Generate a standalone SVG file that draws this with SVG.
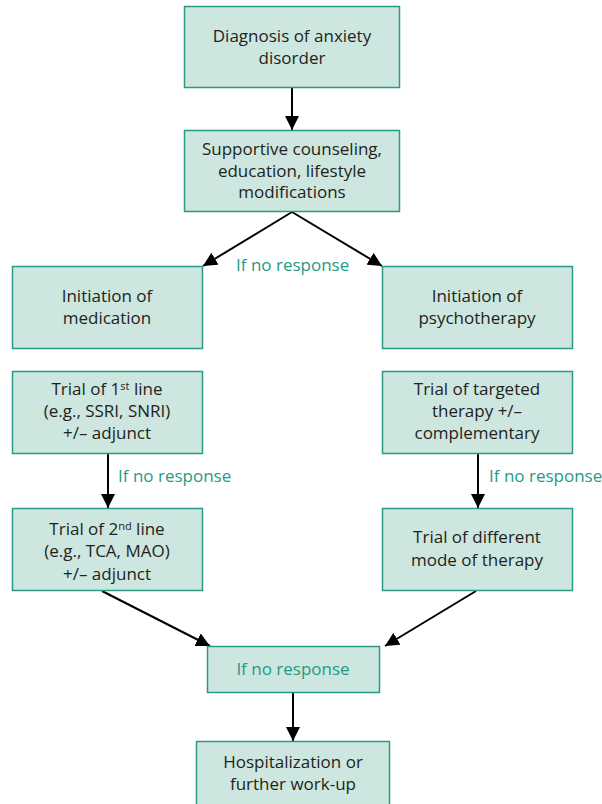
<svg xmlns="http://www.w3.org/2000/svg" width="602" height="804" viewBox="0 0 602 804">
  <defs>
    <marker id="arrow" viewBox="0 0 10 10" refX="10" refY="5" markerWidth="14" markerHeight="14" markerUnits="userSpaceOnUse" orient="auto">
      <path d="M0,0 L10,5 L0,10 z" fill="#000"/>
    </marker>
    <style>
      .box { fill: #cde6df; stroke: #2a9a86; stroke-width: 1.5; }
      .t { font-family: "Open Sans", "Noto Sans", sans-serif; font-size: 17px; fill: #231f20; text-anchor: middle; }
      .g { font-family: "Open Sans", "Noto Sans", sans-serif; font-size: 17px; fill: #1f9a86; }
      .c { stroke: #000; stroke-width: 2; fill: none; marker-end: url(#arrow); }
      .sup { font-size: 11px; }
    </style>
  </defs>

  <g id="connectors">
    <line class="c" x1="292" y1="88" x2="292" y2="130"/>
    <line class="c" x1="292" y1="212" x2="203" y2="266"/>
    <line class="c" x1="292" y1="212" x2="382" y2="266"/>
    <line class="c" x1="108" y1="454" x2="108" y2="508"/>
    <line class="c" x1="478" y1="454" x2="478" y2="508"/>
    <line class="c" x1="102" y1="591" x2="210" y2="646"/>
    <line class="c" x1="476" y1="591" x2="385" y2="646"/>
    <line class="c" x1="293" y1="693" x2="293" y2="741"/>
    <text class="g" x="236" y="271">If no response</text>
    <text class="g" x="118" y="482">If no response</text>
    <text class="g" x="489" y="482">If no response</text>
  </g>

  <g id="diagnosis">
    <rect class="box" x="184.5" y="6.5" width="215" height="81"/>
    <text class="t" x="292" y="42">Diagnosis of anxiety</text>
    <text class="t" x="292" y="64">disorder</text>
  </g>

  <g id="supportive">
    <rect class="box" x="184.5" y="130.5" width="215" height="81"/>
    <text class="t" x="292" y="155">Supportive counseling,</text>
    <text class="t" x="292" y="177">education, lifestyle</text>
    <text class="t" x="292" y="198">modifications</text>
  </g>

  <g id="medication">
    <rect class="box" x="12.5" y="266.5" width="190" height="82"/>
    <text class="t" x="107" y="302">Initiation of</text>
    <text class="t" x="107" y="324">medication</text>
  </g>

  <g id="psychotherapy">
    <rect class="box" x="382.5" y="266.5" width="190" height="82"/>
    <text class="t" x="477" y="302">Initiation of</text>
    <text class="t" x="477" y="324">psychotherapy</text>
  </g>

  <g id="first-line">
    <rect class="box" x="12.5" y="371.5" width="190" height="82"/>
    <text class="t" x="107" y="395">Trial of 1<tspan class="sup" dy="-5">st</tspan><tspan dy="5"> line</tspan></text>
    <text class="t" x="107" y="417">(e.g., SSRI, SNRI)</text>
    <text class="t" x="107" y="439">+/– adjunct</text>
  </g>

  <g id="targeted">
    <rect class="box" x="382.5" y="371.5" width="190" height="82"/>
    <text class="t" x="477" y="395">Trial of targeted</text>
    <text class="t" x="477" y="417">therapy +/–</text>
    <text class="t" x="477" y="439">complementary</text>
  </g>

  <g id="second-line">
    <rect class="box" x="12.5" y="508.5" width="190" height="82"/>
    <text class="t" x="107" y="535">Trial of 2<tspan class="sup" dy="-5">nd</tspan><tspan dy="5"> line</tspan></text>
    <text class="t" x="107" y="557">(e.g., TCA, MAO)</text>
    <text class="t" x="107" y="580">+/– adjunct</text>
  </g>

  <g id="different-mode">
    <rect class="box" x="382.5" y="508.5" width="190" height="82"/>
    <text class="t" x="477" y="543">Trial of different</text>
    <text class="t" x="477" y="566">mode of therapy</text>
  </g>

  <g id="no-response">
    <rect class="box" x="207.5" y="646.5" width="172" height="46"/>
    <text class="g" x="293" y="675" text-anchor="middle">If no response</text>
  </g>

  <g id="hospitalization">
    <rect class="box" x="196.5" y="741.5" width="193" height="70"/>
    <text class="t" x="293" y="768">Hospitalization or</text>
    <text class="t" x="293" y="790">further work-up</text>
  </g>
</svg>
